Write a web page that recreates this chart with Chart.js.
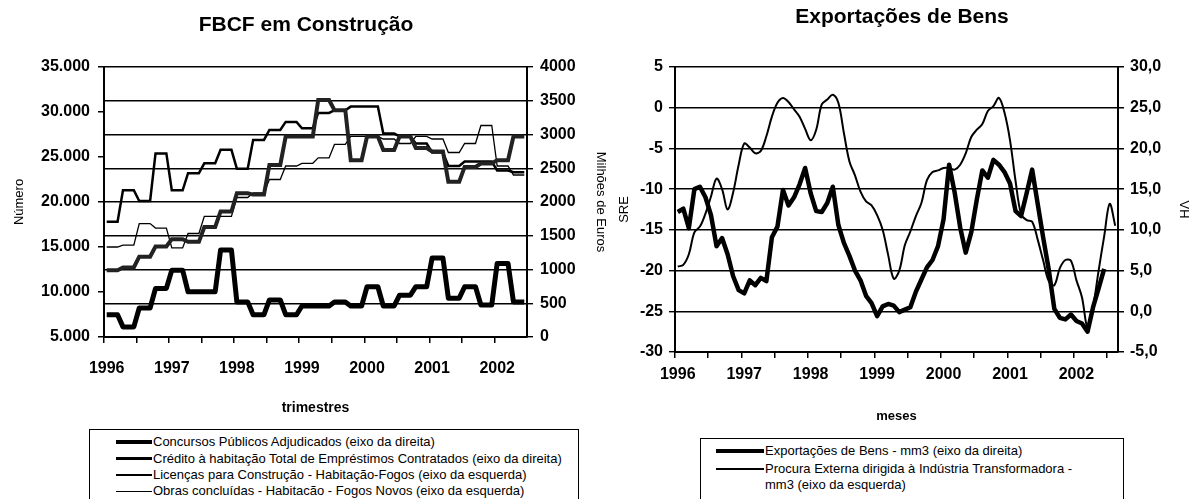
<!DOCTYPE html>
<html>
<head>
<meta charset="utf-8">
<script src="https://cdn.jsdelivr.net/npm/chart.js@4.4.1/dist/chart.umd.min.js"></script>
<style>
  body { margin: 0; background: #fff; width: 1192px; height: 499px; overflow: hidden; position: relative;
         font-family: "Liberation Sans", Arial, sans-serif; color: #000; }
  canvas { position: absolute; top: 0; }
  #graf1 { left: 0; }
  #graf2 { left: 612px; }
  .legenda { position: absolute; border: 1.5px solid #000; background: #fff; font-size: 13px; box-sizing: border-box; }
  .item { display: flex; align-items: center; white-space: nowrap; height: 16.4px; }
  .amostra { display: inline-block; background: #000; margin-right: 1px; flex: none; }
</style>
</head>
<body>
<canvas id="graf1" width="612" height="430"></canvas>
<canvas id="graf2" width="580" height="430"></canvas>
<div class="legenda" id="leg1" style="left:89px; top:429px; width:490px; height:90px; padding:4px 0 0 26px;"></div>
<div class="legenda" id="leg2" style="left:700px; top:438px; width:424px; height:80px; padding:2px 0 0 15px;"></div>

<script>
// ---------- dados: FBCF em Construção (mensal, valores trimestrais repetidos) ----------
const anosFBCF = ['1996', '1997', '1998', '1999', '2000', '2001', '2002'];

// Concursos Públicos Adjudicados (eixo da direita, M€)
const concursos = [
  330,330,330, 150,150,150, 430,430,430, 720,720,720,
  990,990,990, 670,670,670, 670,670,670, 1290,1290,1290,
  520,520,520, 330,330,330, 550,550,550, 330,330,330,
  460,460,460, 460,460,460, 520,520,520, 460,460,460,
  745,745,745, 460,460,460, 620,620,620, 745,745,745,
  1170,1170,1170, 575,575,575, 745,745,745, 475,475,475,
  1090,1090,1090, 520,520,520
];
// Crédito à habitação (eixo da direita, M€)
const credito = [
  990,990,990, 1030,1030,1030, 1190,1190,1190, 1340,1340,1340,
  1450,1450,1450, 1410,1410,1410, 1630,1630,1630, 1860,1860,1860,
  2130,2130,2130, 2110,2110,2110, 2550,2550,2550, 2970,2970,2970,
  2970,2970,2970, 3510,3510,3510, 3360,3360,3360, 2620,2620,2620,
  2970,2970,2970, 2770,2770,2770, 2970,2970,2970, 2800,2800,2800,
  2750,2750,2750, 2300,2300,2300, 2520,2520,2520, 2570,2570,2570,
  2620,2620,2620, 2970,2970,2970
];
// Licenças para Construção (eixo da esquerda)
const licencas = [
  17800,17800,17800, 21300,21300,21300, 20100,20100,20100, 25400,25400,25400,
  21300,21300,21300, 23200,23200,23200, 24300,24300,24300, 25800,25800,25800,
  23700,23700,23700, 26900,26900,26900, 28000,28000,28000, 28900,28900,28900,
  28200,28200,28200, 29900,29900,29900, 30200,30200,30200, 30600,30600,30600,
  30600,30600,30600, 27600,27600,27600, 27300,27300,27300, 26500,26500,26500,
  25500,25500,25500, 24000,24000,24000, 24500,24500,24500, 24500,24500,24500,
  23500,23500,23500, 23300,23300,23300
];
// Obras concluídas (eixo da esquerda)
const obras = [
  15000,15000,15000, 15200,15200,15200, 17600,17600,17600, 17100,17100,17100,
  14900,14900,14900, 16500,16500,16500, 18400,18400,18400, 18400,18400,18400,
  20500,20500,20500, 21000,21000,21000, 22500,22500,22500, 24000,24000,24000,
  24300,24300,24300, 24900,24900,24900, 26400,26400,26400, 27300,27300,27300,
  27300,27300,27300, 27000,27000,27000, 26500,26500,26500, 27300,27300,27300,
  27000,27000,27000, 25500,25500,25500, 26500,26500,26500, 28500,28500,28500,
  24000,24000,24000, 23000,23000,23000
];

// ---------- dados: Exportações de Bens (mensal, 1996-01 a 2002-08) ----------
const anosExp = ['1996', '1997', '1998', '1999', '2000', '2001', '2002'];

// Procura Externa dirigida à Indústria Transformadora (SRE, eixo da esquerda)
const procura = [
  -19.5,-19.3,-18.0,-15.3,-14.6,-13.0,-10.9,-8.7,-10.0,-12.5,-10.4,-7.0,
  -4.4,-4.9,-5.6,-5.3,-3.5,-1.1,0.6,1.2,0.7,-0.2,-1.1,-2.6,
  -4.0,-2.7,0.4,1.0,1.6,0.6,-3.1,-6.6,-8.3,-10.3,-11.5,-12.0,
  -13.2,-15.0,-18.1,-21.0,-20.0,-16.9,-15.2,-13.3,-11.7,-8.9,-7.9,-7.7,
  -7.4,-7.4,-7.6,-7.0,-5.6,-3.6,-2.7,-2.0,-0.4,0.2,1.2,-0.6,
  -4.0,-9.0,-13.1,-13.8,-14.0,-16.2,-18.8,-21.3,-21.8,-19.7,-18.7,-18.8,
  -21.2,-23.3,-27.0,-24.4,-20.0,-15.8,-11.8,-14.5
];
// Exportações de Bens (VH, eixo da direita)
const exportacoes = [
  12.2,12.6,10.2,15.0,15.3,14.0,11.8,8.0,9.0,7.0,4.3,2.6,
  2.2,3.8,3.2,4.1,3.7,9.1,10.4,14.9,13.0,14.0,15.6,17.6,
  14.5,12.3,12.2,13.3,15.3,10.6,8.4,6.8,5.0,3.8,1.9,1.0,
  -0.6,0.6,0.9,0.7,-0.1,0.2,0.5,2.4,3.9,5.4,6.3,8.0,
  11.3,18.0,14.6,10.3,7.2,9.7,13.7,17.3,16.4,18.6,18.0,17.1,
  15.7,12.3,11.7,14.5,17.4,13.2,9.0,5.1,0.3,-0.8,-1.0,-0.4,
  -1.2,-1.5,-2.5,0.5,2.8,5.2,null,null
];

// rótulos mensais (só os anos aparecem no eixo)
function mesesDe(anos, n) {
  const out = [];
  for (let i = 0; i < n; i++) out.push(anos[0] * 1 + Math.floor(i / 12) + '-' + String(i % 12 + 1).padStart(2, '0'));
  return out;
}
const mesesFBCF = mesesDe(anosFBCF, concursos.length);
const mesesExp = mesesDe(anosExp, procura.length);

Chart.defaults.font.family = '"Liberation Sans", Arial, sans-serif';
Chart.defaults.color = '#000';
Chart.defaults.animation = false;

const fonteTick = { size: 16, weight: 'bold' };
const preto = '#000';

function milhares(v) {
  return String(v).replace(/\B(?=(\d{3})+(?!\d))/g, '.');
}

// eixo x comum: marcas a cada 6 meses, rótulo só no início do ano
function eixoMeses(altura, pad, tituloTxt, tituloPad, tituloSize) {
  return {
    type: 'category',
    offset: true,
    afterFit: s => { s.height = altura; },
    border: { color: preto, width: 2 },
    grid: {
      offset: true,
      drawOnChartArea: false,
      tickLength: 6,
      lineWidth: 1.5,
      tickColor: c => (c.index % 6 === 0 ? preto : 'rgba(0,0,0,0)')
    },
    ticks: {
      autoSkip: false,
      maxRotation: 0,
      padding: pad,
      font: fonteTick,
      callback: function (v, i) { return i % 12 === 0 ? this.getLabelForValue(v).slice(0, 4) : ''; }
    },
    title: { display: true, text: tituloTxt, font: { size: tituloSize, weight: 'bold' }, padding: { top: 0, bottom: tituloPad } }
  };
}

// ---------- gráfico 1 ----------
new Chart(document.getElementById('graf1'), {
  type: 'line',
  data: {
    labels: mesesFBCF,
    datasets: [
      { label: 'Concursos Públicos Adjudicados (eixo da direita)', data: concursos, yAxisID: 'yDir',
        borderColor: preto, borderWidth: 5, pointRadius: 0, borderJoinStyle: 'round' },
      { label: 'Crédito à habitação Total de Empréstimos Contratados (eixo da direita)', data: credito, yAxisID: 'yDir',
        borderColor: '#222', borderWidth: 4, pointRadius: 0 },
      { label: 'Licenças para Construção - Habitação-Fogos (eixo da esquerda)', data: licencas, yAxisID: 'yEsq',
        borderColor: preto, borderWidth: 2.5, pointRadius: 0 },
      { label: 'Obras concluídas - Habitacão - Fogos Novos (eixo da esquerda)', data: obras, yAxisID: 'yEsq',
        borderColor: preto, borderWidth: 1.3, pointRadius: 0 }
    ]
  },
  options: {
    responsive: false,
    plugins: {
      legend: { display: false },
      tooltip: { enabled: false },
      title: { display: true, text: 'FBCF em Construção', font: { size: 21, weight: 'bold' },
               padding: { top: 12.4, bottom: 29.4 } }
    },
    scales: {
      x: eixoMeses(93, 16, 'trimestres', 13, 14),
      yEsq: {
        position: 'left', min: 5000, max: 35000,
        afterFit: s => { s.width = 104; },
        border: { color: preto, width: 2 },
        grid: { drawOnChartArea: false, tickLength: 6, color: preto, lineWidth: 1.5 },
        ticks: { stepSize: 5000, padding: 8, font: fonteTick, callback: v => milhares(v) },
        title: { display: true, text: 'Número', font: { size: 13 }, padding: { top: 12 } }
      },
      yDir: {
        position: 'right', min: 0, max: 4000,
        afterFit: s => { s.width = 85; },
        border: { color: preto, width: 2 },
        grid: { color: preto, lineWidth: 1.4, tickLength: 6 },
        ticks: { stepSize: 500, padding: 7, font: fonteTick, callback: v => String(v) },
        title: { display: true, text: 'Milhões de Euros', font: { size: 13 }, padding: { top: 4 } }
      }
    }
  }
});

// ---------- gráfico 2 ----------
new Chart(document.getElementById('graf2'), {
  type: 'line',
  data: {
    labels: mesesExp,
    datasets: [
      { label: 'Exportações de Bens - mm3 (eixo da direita)', data: exportacoes, yAxisID: 'yVH',
        borderColor: preto, borderWidth: 4.5, pointRadius: 0, borderJoinStyle: 'round' },
      { label: 'Procura Externa dirigida à Indústria Transformadora - mm3 (eixo da esquerda)', data: procura, yAxisID: 'ySRE',
        borderColor: preto, borderWidth: 2, pointRadius: 0, tension: 0.35 }
    ]
  },
  options: {
    responsive: false,
    plugins: {
      legend: { display: false },
      tooltip: { enabled: false },
      title: { display: true, text: 'Exportações de Bens', font: { size: 21, weight: 'bold' },
               padding: { top: 4.4, bottom: 37.4 } }
    },
    scales: {
      x: eixoMeses(78, 7, 'meses', 6, 13),
      ySRE: {
        position: 'left', min: -30, max: 5,
        afterFit: s => { s.width = 63; },
        border: { color: preto, width: 2 },
        grid: { color: preto, lineWidth: 1.4, tickLength: 6 },
        ticks: { stepSize: 5, padding: 6, font: fonteTick },
        title: { display: true, text: 'SRE', font: { size: 13 }, padding: { top: 5 } }
      },
      yVH: {
        position: 'right', min: -5, max: 30,
        afterFit: s => { s.width = 74; },
        border: { color: preto, width: 2 },
        grid: { drawOnChartArea: false, tickLength: 6, color: preto, lineWidth: 1.5 },
        ticks: { stepSize: 5, padding: 6, font: fonteTick, callback: v => v.toFixed(1).replace('.', ',') },
        title: { display: true, text: 'VH', font: { size: 13 }, padding: { top: 1 } }
      }
    }
  }
});

// ---------- legendas ----------
function legenda(id, itens) {
  const box = document.getElementById(id);
  itens.forEach(it => {
    const linha = document.createElement('div');
    linha.className = 'item';
    if (it.altura) linha.style.height = it.altura + 'px';
    linha.style.alignItems = it.topo ? 'flex-start' : 'center';
    const a = document.createElement('span');
    a.className = 'amostra';
    a.style.width = it.comp + 'px';
    a.style.height = it.esp + 'px';
    if (it.topo) a.style.marginTop = (8 - it.esp / 2) + 'px';
    const t = document.createElement('span');
    t.innerHTML = it.texto;
    t.style.lineHeight = '16px';
    linha.appendChild(a);
    linha.appendChild(t);
    box.appendChild(linha);
  });
}
legenda('leg1', [
  { texto: 'Concursos Públicos Adjudicados (eixo da direita)', comp: 36, esp: 4 },
  { texto: 'Crédito à habitação Total de Empréstimos Contratados (eixo da direita)', comp: 36, esp: 3.5 },
  { texto: 'Licenças para Construção - Habitação-Fogos (eixo da esquerda)', comp: 36, esp: 2.5 },
  { texto: 'Obras concluídas - Habitacão - Fogos Novos (eixo da esquerda)', comp: 36, esp: 1.3 }
]);
legenda('leg2', [
  { texto: 'Exportações de Bens - mm3 (eixo da direita)', comp: 48, esp: 4, altura: 20 },
  { texto: 'Procura Externa dirigida à Indústria Transformadora -<br>mm3 (eixo da esquerda)', comp: 48, esp: 2.5, topo: true, altura: 40 }
]);
</script>
</body>
</html>
